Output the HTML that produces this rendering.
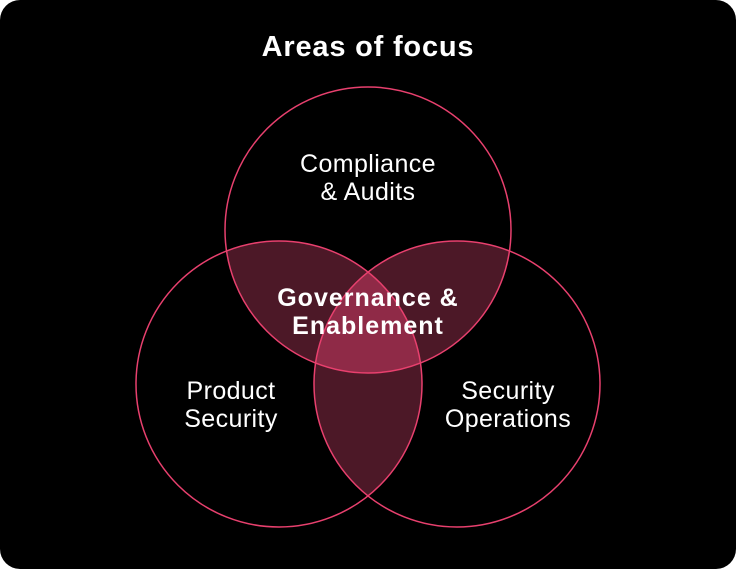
<!DOCTYPE html>
<html><head><style>
html,body{margin:0;padding:0;background:#fff;}
.w{width:736px;height:569px;background:#000;border-radius:20px;position:relative;overflow:hidden;font-family:"Liberation Sans",sans-serif;color:#fff;}
svg{position:absolute;left:0;top:0}
.t{position:absolute;text-align:center;font-size:25px;line-height:28px;letter-spacing:0.4px;}
</style></head><body><div class="w">
<svg width="736" height="569">
<defs>
<clipPath id="cT"><circle cx="368" cy="230" r="143"/></clipPath>
<clipPath id="cL"><circle cx="279" cy="384" r="143"/></clipPath>
<clipPath id="cR"><circle cx="457" cy="384" r="143"/></clipPath>
</defs>
<g clip-path="url(#cT)"><circle cx="279" cy="384" r="143" fill="#4c1827"/><circle cx="457" cy="384" r="143" fill="#4c1827"/></g>
<g clip-path="url(#cL)"><circle cx="457" cy="384" r="143" fill="#4c1827"/></g>
<g clip-path="url(#cT)"><g clip-path="url(#cL)"><circle cx="457" cy="384" r="143" fill="#8f2a47"/></g></g>
<g fill="none" stroke="#e8406e" stroke-width="1.5">
<circle cx="368" cy="230" r="143"/><circle cx="279" cy="384" r="143"/><circle cx="457" cy="384" r="143"/>
</g>
</svg>
<div class="t" style="left:0;width:736px;top:31px;font-size:29px;line-height:32px;font-weight:bold;letter-spacing:0.8px">Areas of focus</div>
<div class="t" style="left:218px;width:300px;top:150px">Compliance<br>&amp; Audits</div>
<div class="t" style="left:200px;width:336px;top:284px;font-weight:bold;letter-spacing:1px">Governance &amp;<br>Enablement</div>
<div class="t" style="left:91px;width:280px;top:377px">Product<br>Security</div>
<div class="t" style="left:368px;width:280px;top:377px">Security<br>Operations</div>
</div></body></html>
